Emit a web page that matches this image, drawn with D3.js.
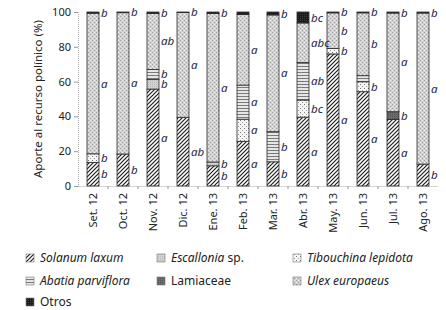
<!DOCTYPE html>
<html>
<head>
<meta charset="utf-8">
<script src="https://cdn.jsdelivr.net/npm/d3@7"></script>
<style>
  body { margin: 0; background: #fff; }
  text { font-family: "Noto Sans", sans-serif; }
</style>
</head>
<body>
<script>
// months on the x axis
var months = ["Set. 12", "Oct. 12", "Nov. 12", "Dic. 12", "Ene. 13", "Feb. 13",
              "Mar. 13", "Abr. 13", "May. 13", "Jun. 13", "Jul. 13", "Ago. 13"];

// percent of pollen resource per taxon (stacked bottom -> top)
var solanum    = [13.6, 18.4, 55.7, 39.5, 11.6, 25.7, 13.9, 39.6, 75.9, 54.2, 38.3, 12.6];
var escallonia = [0, 0, 5.5, 0, 2.2, 0, 0, 0, 0, 0, 0, 0];
var tibouchina = [4.9, 0, 0, 0, 0, 12.7, 0, 9.8, 3.2, 5.7, 0, 0];
var abatia     = [0, 0, 5.8, 0, 0, 19.6, 17.3, 21.5, 0, 3.5, 0, 0];
var lamiaceae  = [0, 0, 0, 0, 0, 0, 0, 0, 0, 0, 4.4, 0];
var ulex       = [80.8, 81.2, 32.2, 60.2, 85.3, 40.5, 67.1, 22.8, 20.4, 36.1, 56.7, 86.8];
var otros      = [0.7, 0.4, 0.8, 0.3, 0.9, 1.5, 1.7, 6.3, 0.5, 0.5, 0.6, 0.6];

// significance letters next to each segment ("" = none)
var solanumLet    = ["b", "b", "a", "ab", "b", "a", "b", "a", "a", "a", "a", "b"];
var escalloniaLet = ["", "", "b", "", "b", "", "", "", "", "", "", ""];
var tibouchinaLet = ["b", "", "", "", "", "a", "", "bc", "b", "b", "", ""];
var abatiaLet     = ["", "", "b", "", "", "a", "b", "ab", "", "", "", ""];
var lamiaceaeLet  = ["", "", "", "", "", "", "", "", "", "", "b", ""];
var ulexLet       = ["a", "a", "ab", "a", "a", "a", "a", "abc", "b", "b", "a", "a"];
var otrosLet      = ["b", "b", "b", "b", "b", "", "b", "bc", "b", "b", "b", "b"];

var yTicks = [0, 20, 40, 60, 80, 100];

var series = [
    {key: "solanum",    values: solanum,    letters: solanumLet,    fill: "url(#p-solanum)"},
    {key: "escallonia", values: escallonia, letters: escalloniaLet, fill: "url(#p-escallonia)"},
    {key: "tibouchina", values: tibouchina, letters: tibouchinaLet, fill: "url(#p-tibouchina)"},
    {key: "abatia",     values: abatia,     letters: abatiaLet,     fill: "url(#p-abatia)"},
    {key: "lamiaceae",  values: lamiaceae,  letters: lamiaceaeLet,  fill: "url(#p-lamiaceae)"},
    {key: "ulex",       values: ulex,       letters: ulexLet,       fill: "url(#p-ulex)"},
    {key: "otros",      values: otros,      letters: otrosLet,      fill: "url(#p-otros)"}
];

var legendItems = [
    {key: "solanum",    parts: [["Solanum laxum", true]]},
    {key: "escallonia", parts: [["Escallonia", true], [" sp.", false]]},
    {key: "tibouchina", parts: [["Tibouchina lepidota", true]]},
    {key: "abatia",     parts: [["Abatia parviflora", true]]},
    {key: "lamiaceae",  parts: [["Lamiaceae", false]]},
    {key: "ulex",       parts: [["Ulex europaeus", true]]},
    {key: "otros",      parts: [["Otros", false]]}
];

var width = 446, height = 310;
var svg = d3.select("body").append("svg")
    .attr("width", width)
    .attr("height", height);

// --- fill patterns ---
var defs = svg.append("defs");

function pat(id, size, bg) {
    var p = defs.append("pattern")
        .attr("id", id)
        .attr("patternUnits", "userSpaceOnUse")
        .attr("width", size).attr("height", size);
    p.append("rect").attr("width", size).attr("height", size).attr("fill", bg);
    return p;
}

var pS = pat("p-solanum", 4, "#fff");
pS.append("path")
    .attr("d", "M-1,1 l2,-2 M0,4 l4,-4 M3,5 l2,-2")
    .attr("stroke", "#1e1e1e").attr("stroke-width", 1.2);

var pE = pat("p-escallonia", 2, "#d2d2d2");
pE.append("rect").attr("x", 0).attr("y", 0).attr("width", 1).attr("height", 1).attr("fill", "#b8b8b8");

var pT = pat("p-tibouchina", 4, "#f6f6f6");
pT.append("rect").attr("x", 0).attr("y", 0).attr("width", 1).attr("height", 1).attr("fill", "#777");
pT.append("rect").attr("x", 2).attr("y", 2).attr("width", 1).attr("height", 1).attr("fill", "#999");

var pA = pat("p-abatia", 3, "#e6e6e6");
pA.append("rect").attr("x", 0).attr("y", 0).attr("width", 3).attr("height", 1).attr("fill", "#7a7a7a");

var pL = pat("p-lamiaceae", 2, "#6c6c6c");
pL.append("rect").attr("x", 0).attr("y", 0).attr("width", 1).attr("height", 1).attr("fill", "#545454");

var pU = pat("p-ulex", 4, "#d2d2d2");
pU.append("rect").attr("x", 0).attr("y", 0).attr("width", 1).attr("height", 1).attr("fill", "#9e9e9e");
pU.append("rect").attr("x", 2).attr("y", 2).attr("width", 1).attr("height", 1).attr("fill", "#9e9e9e");
pU.append("rect").attr("x", 2).attr("y", 0).attr("width", 1).attr("height", 1).attr("fill", "#f0f0f0");
pU.append("rect").attr("x", 0).attr("y", 2).attr("width", 1).attr("height", 1).attr("fill", "#f0f0f0");

var pO = pat("p-otros", 2, "#1c1c1c");
pO.append("rect").attr("x", 0).attr("y", 0).attr("width", 1).attr("height", 1).attr("fill", "#3a3a3a");

// --- scales ---
var x = d3.scaleBand()
    .domain(months)
    .range([78, 438])
    .paddingInner(0.6)
    .paddingOuter(0.3);

var y = d3.scaleLinear()
    .domain([0, 100])
    .range([186, 12]);

// --- stacked data ---
var table = months.map((m, i) => {
    let row = {month: m};
    series.forEach(s => { row[s.key] = s.values[i]; });
    return row;
});
var stack = d3.stack().keys(series.map(s => s.key));
var stacked = stack(table);

// --- axes ---
var yAxis = svg.append("g")
    .attr("transform", "translate(78,0)")
    .call(d3.axisLeft(y).tickValues(yTicks).tickSize(4).tickPadding(3));
yAxis.select(".domain").attr("stroke", "#aaa").attr("stroke-dasharray", "1,1");
yAxis.selectAll(".tick line").attr("stroke", "#999");
yAxis.selectAll("text").attr("font-size", 11).attr("fill", "#222");

var xAxis = svg.append("g")
    .attr("transform", "translate(0,186)")
    .call(d3.axisBottom(x).tickSize(0).tickPadding(0));
xAxis.select(".domain").attr("stroke", "#aaa").attr("stroke-dasharray", "1,1");
xAxis.selectAll("text")
    .attr("font-size", 11)
    .attr("fill", "#222")
    .attr("text-anchor", "end")
    .attr("transform", "rotate(-90)")
    .attr("x", -7)
    .attr("y", 0)
    .attr("dy", "0.35em");

// small ticks between the categories
var step = x.step();
svg.append("g").selectAll("line")
    .data(months.slice(1))
    .join("line")
    .attr("x1", d => x(d) - (step - x.bandwidth()) / 2)
    .attr("x2", d => x(d) - (step - x.bandwidth()) / 2)
    .attr("y1", 186).attr("y2", 189)
    .attr("stroke", "#999");

svg.append("text")
    .attr("transform", "translate(42," + (y(50)) + ") rotate(-90)")
    .attr("text-anchor", "middle")
    .attr("font-size", 11.5)
    .attr("fill", "#222")
    .text("Aporte al recurso polínico (%)");

// --- bars ---
var bars = svg.append("g");
stacked.forEach((layer, li) => {
    bars.append("g")
        .selectAll("rect")
        .data(layer.filter(d => d[1] - d[0] > 0))
        .join("rect")
        .attr("x", d => x(d.data.month))
        .attr("width", x.bandwidth())
        .attr("y", d => y(d[1]))
        .attr("height", d => y(d[0]) - y(d[1]))
        .attr("fill", series[li].fill)
        .attr("stroke", "#2a2a2a")
        .attr("stroke-width", 0.8);
});

// --- letters ---
var letters = svg.append("g");
stacked.forEach((layer, li) => {
    letters.append("g")
        .selectAll("text")
        .data(layer.filter((d, i) => series[li].letters[i] !== ""))
        .join("text")
        .attr("x", d => x(d.data.month) + x.bandwidth() + 2)
        .attr("y", d => y((d[0] + d[1]) / 2))
        .attr("dy", "0.35em")
        .attr("font-size", 11.5)
        .attr("font-style", "italic")
        .attr("fill", "#1d2346")
        .text(d => series[li].letters[months.indexOf(d.data.month)]);
});

// --- legend ---
var colX = [26, 157, 293];
var rowY = [258, 281, 302];
var legend = svg.append("g");
legendItems.forEach((item, i) => {
    let cx = colX[i % 3], cy = rowY[Math.floor(i / 3)];
    let s = series.find(d => d.key === item.key);
    legend.append("rect")
        .attr("x", cx).attr("y", cy - 4)
        .attr("width", 8).attr("height", 8)
        .attr("fill", s.fill)
        .attr("stroke", "#777").attr("stroke-width", 0.6);
    let t = legend.append("text")
        .attr("x", cx + 14).attr("y", cy)
        .attr("dy", "0.35em")
        .attr("font-size", 12)
        .attr("fill", "#222");
    item.parts.forEach(p => {
        t.append("tspan")
            .attr("font-style", p[1] ? "italic" : "normal")
            .text(p[0]);
    });
});
</script>
</body>
</html>
